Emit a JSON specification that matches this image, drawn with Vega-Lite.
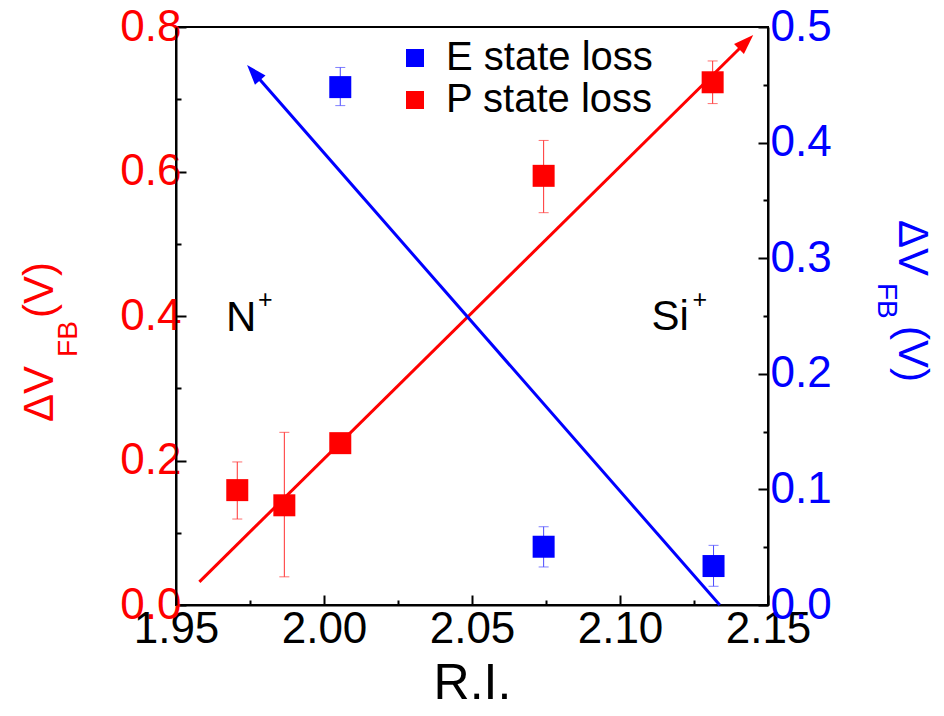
{
  "$schema": "https://vega.github.io/schema/vega-lite/v6.json",
  "width": 592,
  "height": 578,
  "autosize": {"type": "none"},
  "padding": {"left": 176, "top": 27, "right": 176, "bottom": 111},
  "background": "white",
  "config": {
    "font": "Liberation Sans",
    "view": {"stroke": "black", "strokeWidth": 2},
    "axis": {
      "grid": false,
      "domainColor": "black",
      "domainWidth": 2,
      "tickColor": "black",
      "tickWidth": 2,
      "labelFont": "Liberation Sans",
      "labelFontSize": 44,
      "titleFont": "Liberation Sans",
      "labelFlush": false,
      "labelOverlap": false
    }
  },
  "datasets": {
    "pts": [
      {"ri": 1.9707, "v": 0.159, "lo": 0.119, "hi": 0.198, "series": "P state loss"},
      {"ri": 1.9866, "v": 0.138, "lo": 0.039, "hi": 0.239, "series": "P state loss"},
      {"ri": 2.0055, "v": 0.224, "lo": 0.215, "hi": 0.233, "series": "P state loss"},
      {"ri": 2.0742, "v": 0.594, "lo": 0.543, "hi": 0.643, "series": "P state loss"},
      {"ri": 2.1313, "v": 0.7235, "lo": 0.694, "hi": 0.753, "series": "P state loss"},
      {"ri": 2.0055, "v": 0.448, "lo": 0.432, "hi": 0.465, "series": "E state loss"},
      {"ri": 2.0742, "v": 0.0504, "lo": 0.0329, "hi": 0.0677, "series": "E state loss"},
      {"ri": 2.1316, "v": 0.0337, "lo": 0.0162, "hi": 0.0516, "series": "E state loss"}
    ],
    "lines": [
      {"ri": 1.9579, "v": 0.032, "series": "P state loss"},
      {"ri": 2.1426, "v": 0.7792, "series": "P state loss"},
      {"ri": 1.97624, "v": 0.4606, "series": "E state loss"},
      {"ri": 2.1337, "v": 0.0, "series": "E state loss"}
    ],
    "heads": [
      {"ri": 2.1426, "v": 0.7792, "series": "P state loss"},
      {"ri": 1.97624, "v": 0.4606, "series": "E state loss"}
    ],
    "notes": [
      {"label": "N", "ri": 1.9669, "v": 0.3792, "kind": "big"},
      {"label": "Si", "ri": 2.11061, "v": 0.3806, "kind": "big"},
      {"label": "+", "ri": 1.97773, "v": 0.4104, "kind": "sup"},
      {"label": "+", "ri": 2.12447, "v": 0.4104, "kind": "sup"},
      {"label": "ΔV", "ri": 1.90841, "v": 0.2533, "kind": "ltitle"},
      {"label": "(V)", "ri": 1.90841, "v": 0.3972, "kind": "ltitle"},
      {"label": "FB", "ri": 1.91653, "v": 0.3433, "kind": "lsub"},
      {"label": "ΔV", "ri": 2.19413, "v": 0.5329, "kind": "rtitle"},
      {"label": "(V)", "ri": 2.19413, "v": 0.3862, "kind": "rtitle"},
      {"label": "FB", "ri": 2.18703, "v": 0.4457, "kind": "rsub"}
    ]
  },
  "layer": [
    {
      "layer": [
        {
          "data": {"name": "lines"},
          "transform": [{"filter": "datum.series == 'P state loss'"}],
          "mark": {"type": "line", "color": "#ff0000", "strokeWidth": 3},
          "encoding": {
            "x": {
              "field": "ri", "type": "quantitative",
              "scale": {"domain": [1.95, 2.15], "nice": false, "zero": false},
              "title": "R.I.",
              "axis": {
                "title": "R.I.",
                "titleFontSize": 50,
                "titleFontWeight": "normal",
                "titleColor": "black",
                "titlePadding": 2,
                "values": [1.95, 1.975, 2.0, 2.025, 2.05, 2.075, 2.1, 2.125, 2.15],
                "labelExpr": "round(datum.value*40)%2==0 ? format(datum.value,'.2f') : ''",
                "tickSize": {"condition": {"test": "round(datum.value*40)%2==0", "value": -10}, "value": -5},
                "labelColor": "black",
                "labelFontSize": 44,
                "labelPadding": 12
              }
            },
            "y": {
              "field": "v", "type": "quantitative",
              "scale": {"domain": [0, 0.8], "nice": false},
              "title": null,
              "axis": {
                "title": null,
                "values": [0, 0.1, 0.2, 0.3, 0.4, 0.5, 0.6, 0.7, 0.8],
                "labelExpr": "round(datum.value*10)%2==0 ? format(datum.value,'.1f') : ''",
                "tickSize": {"condition": {"test": "round(datum.value*10)%2==0", "value": -10}, "value": -5},
                "labelColor": "#ff0000",
                "labelFontSize": 44,
                "labelPadding": 5
              }
            }
          }
        },
        {
          "data": {"name": "heads"},
          "transform": [{"filter": "datum.series == 'P state loss'"}],
          "mark": {"type": "point", "shape": "M-0.7,1L0,-1L0.7,1Z", "filled": true, "size": 400, "color": "#ff0000", "opacity": 1, "angle": 45.3},
          "encoding": {
            "x": {"field": "ri", "type": "quantitative", "title": "R.I."},
            "y": {"field": "v", "type": "quantitative", "title": null}
          }
        },
        {
          "data": {"name": "pts"},
          "transform": [{"filter": "datum.series == 'P state loss'"}],
          "mark": {"type": "errorbar", "ticks": {"size": 10, "thickness": 1, "color": "#ff3030"}, "rule": {"strokeWidth": 1, "color": "#ff3030"}},
          "encoding": {
            "x": {"field": "ri", "type": "quantitative", "title": "R.I."},
            "y": {"field": "lo", "type": "quantitative", "title": null},
            "y2": {"field": "hi"}
          }
        },
        {
          "data": {"name": "pts"},
          "transform": [{"filter": "datum.series == 'P state loss'"}],
          "mark": {"type": "point", "shape": "square", "filled": true, "size": 484, "opacity": 1},
          "encoding": {
            "x": {"field": "ri", "type": "quantitative", "title": "R.I."},
            "y": {"field": "v", "type": "quantitative", "title": null},
            "color": {
              "field": "series", "type": "nominal",
              "scale": {"domain": ["E state loss", "P state loss"], "range": ["#0000ff", "#ff0000"]},
              "legend": {
                "title": null, "orient": "none", "legendX": 219, "legendY": 11,
                "symbolType": "square", "symbolSize": 324, "symbolStrokeWidth": 0,
                "labelFontSize": 40, "labelFont": "Liberation Sans", "labelColor": "black",
                "labelOffset": 11, "rowPadding": 2, "labelLimit": 0
              }
            }
          }
        },
        {
          "data": {"name": "notes"},
          "transform": [{"filter": "datum.kind == 'big'"}],
          "mark": {"type": "text", "fontSize": 42, "align": "left", "baseline": "alphabetic", "color": "black"},
          "encoding": {
            "x": {"field": "ri", "type": "quantitative", "title": "R.I."},
            "y": {"field": "v", "type": "quantitative", "title": null},
            "text": {"field": "label"}
          }
        },
        {
          "data": {"name": "notes"},
          "transform": [{"filter": "datum.kind == 'sup'"}],
          "mark": {"type": "text", "fontSize": 25, "align": "left", "baseline": "alphabetic", "color": "black"},
          "encoding": {
            "x": {"field": "ri", "type": "quantitative", "title": "R.I."},
            "y": {"field": "v", "type": "quantitative", "title": null},
            "text": {"field": "label"}
          }
        },
        {
          "data": {"name": "notes"},
          "transform": [{"filter": "datum.kind == 'ltitle'"}],
          "mark": {"type": "text", "fontSize": 42, "angle": 270, "align": "left", "baseline": "alphabetic", "color": "#ff0000"},
          "encoding": {
            "x": {"field": "ri", "type": "quantitative", "title": "R.I."},
            "y": {"field": "v", "type": "quantitative", "title": null},
            "text": {"field": "label"}
          }
        },
        {
          "data": {"name": "notes"},
          "transform": [{"filter": "datum.kind == 'lsub'"}],
          "mark": {"type": "text", "fontSize": 28, "angle": 270, "align": "left", "baseline": "alphabetic", "color": "#ff0000"},
          "encoding": {
            "x": {"field": "ri", "type": "quantitative", "title": "R.I."},
            "y": {"field": "v", "type": "quantitative", "title": null},
            "text": {"field": "label"}
          }
        },
        {
          "data": {"name": "notes"},
          "transform": [{"filter": "datum.kind == 'rtitle'"}],
          "mark": {"type": "text", "fontSize": 42, "angle": 90, "align": "left", "baseline": "alphabetic", "color": "#0000ff"},
          "encoding": {
            "x": {"field": "ri", "type": "quantitative", "title": "R.I."},
            "y": {"field": "v", "type": "quantitative", "title": null},
            "text": {"field": "label"}
          }
        },
        {
          "data": {"name": "notes"},
          "transform": [{"filter": "datum.kind == 'rsub'"}],
          "mark": {"type": "text", "fontSize": 28, "angle": 90, "align": "left", "baseline": "alphabetic", "color": "#0000ff"},
          "encoding": {
            "x": {"field": "ri", "type": "quantitative", "title": "R.I."},
            "y": {"field": "v", "type": "quantitative", "title": null},
            "text": {"field": "label"}
          }
        }
      ]
    },
    {
      "layer": [
        {
          "data": {"name": "lines"},
          "transform": [{"filter": "datum.series == 'E state loss'"}],
          "mark": {"type": "line", "color": "#0000ff", "strokeWidth": 3},
          "encoding": {
            "x": {"field": "ri", "type": "quantitative", "title": "R.I."},
            "y": {
              "field": "v", "type": "quantitative",
              "scale": {"domain": [0, 0.5], "nice": false},
              "title": null,
              "axis": {
                "orient": "right",
                "title": null,
                "values": [0, 0.05, 0.1, 0.15, 0.2, 0.25, 0.3, 0.35, 0.4, 0.45, 0.5],
                "labelExpr": "round(datum.value*20)%2==0 ? format(datum.value,'.1f') : ''",
                "tickSize": {"condition": {"test": "round(datum.value*20)%2==0", "value": -10}, "value": -5},
                "labelColor": "#0000ff",
                "labelFontSize": 44,
                "labelPadding": 12
              }
            }
          }
        },
        {
          "data": {"name": "heads"},
          "transform": [{"filter": "datum.series == 'E state loss'"}],
          "mark": {"type": "point", "shape": "M-0.7,1L0,-1L0.7,1Z", "filled": true, "size": 400, "color": "#0000ff", "opacity": 1, "angle": 318.9},
          "encoding": {
            "x": {"field": "ri", "type": "quantitative", "title": "R.I."},
            "y": {"field": "v", "type": "quantitative", "title": null}
          }
        },
        {
          "data": {"name": "pts"},
          "transform": [{"filter": "datum.series == 'E state loss'"}],
          "mark": {"type": "errorbar", "ticks": {"size": 10, "thickness": 1, "color": "#4a4aff"}, "rule": {"strokeWidth": 1, "color": "#4a4aff"}},
          "encoding": {
            "x": {"field": "ri", "type": "quantitative", "title": "R.I."},
            "y": {"field": "lo", "type": "quantitative", "title": null},
            "y2": {"field": "hi"}
          }
        },
        {
          "data": {"name": "pts"},
          "transform": [{"filter": "datum.series == 'E state loss'"}],
          "mark": {"type": "point", "shape": "square", "filled": true, "size": 484, "opacity": 1},
          "encoding": {
            "x": {"field": "ri", "type": "quantitative", "title": "R.I."},
            "y": {"field": "v", "type": "quantitative", "title": null},
            "color": {
              "field": "series", "type": "nominal",
              "scale": {"domain": ["E state loss", "P state loss"], "range": ["#0000ff", "#ff0000"]}
            }
          }
        }
      ]
    }
  ],
  "resolve": {"scale": {"y": "independent"}}
}
